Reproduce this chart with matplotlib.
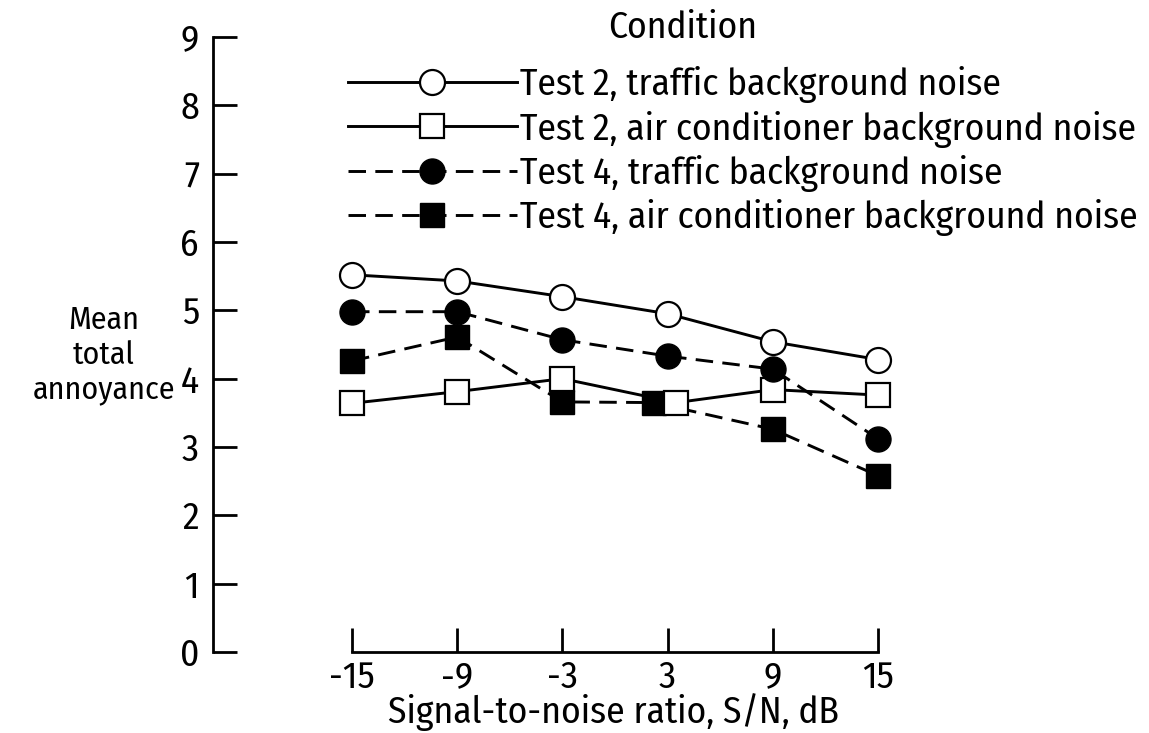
import matplotlib
matplotlib.use("Agg")
import matplotlib.pyplot as plt

plt.rcParams['font.family'] = ['Fira Sans Condensed', 'DejaVu Sans']

# signal-to-noise ratio, dB
sn = [-15, -9, -3, 3, 9, 15]
sn_labels = ["-15", "-9", "-3", "3", "9", "15"]

# mean total annoyance
t2_traffic = [5.52, 5.43, 5.20, 4.95, 4.54, 4.28]
t2_aircon = [3.64, 3.81, 4.00, 3.65, 3.84, 3.76]
t4_traffic = [4.98, 4.98, 4.57, 4.33, 4.14, 3.12]
t4_aircon = [4.26, 4.61, 3.66, 3.65, 3.26, 2.58]

# the two overlapping squares at 3 dB are drawn side by side
sn_t2_aircon = [-15, -9, -3, 3.5, 9, 15]
sn_t4_aircon = [-15, -9, -3, 2.2, 9, 15]

labels = ["Test 2, traffic background noise",
          "Test 2, air conditioner background noise",
          "Test 4, traffic background noise",
          "Test 4, air conditioner background noise"]

fig = plt.figure(figsize=(11.49, 7.33), dpi=100)
ax = fig.add_axes([213 / 1149, 1 - 652 / 733, (878 - 213) / 1149, (652 - 37) / 733])

lw = 2.1
ms = 18
dash = (0, (6, 3.2))

h1, = ax.plot(sn, t2_traffic, color="black", lw=lw, marker="o", ms=ms,
              mfc="white", mec="black", mew=1.6, zorder=6, clip_on=False)
h2, = ax.plot(sn_t2_aircon, t2_aircon, color="black", lw=lw, marker="s", ms=ms - 1,
              mfc="white", mec="black", mew=1.6, zorder=4, clip_on=False)
h3, = ax.plot(sn, t4_traffic, color="black", lw=lw, ls=dash, marker="o", ms=ms,
              mfc="black", mec="black", zorder=5, clip_on=False)
h4, = ax.plot(sn_t4_aircon, t4_aircon, color="black", lw=lw, ls=dash, marker="s", ms=ms - 1,
              mfc="black", mec="black", zorder=3, clip_on=False)

ax.set_xlim(-15 - (352 - 213) / 17.53, 15)
ax.set_ylim(0, 9)

for s in ["top", "right"]:
    ax.spines[s].set_visible(False)
ax.spines["left"].set_bounds(0, 9)
ax.spines["bottom"].set_bounds(-15, 15)
ax.spines["left"].set_linewidth(2)
ax.spines["bottom"].set_linewidth(2)

ax.set_yticks(range(10))
ax.set_xticks(sn)
ax.set_xticklabels(sn_labels)
ax.tick_params(axis="both", direction="in", length=17, width=2, labelsize=27)
ax.tick_params(axis="y", pad=10)
ax.tick_params(axis="x", pad=6)

fig.text(104 / 1149, 1 - 355 / 733, "Mean\ntotal\nannoyance", ha="center", va="center",
         fontsize=23, linespacing=1.2)
fig.text(613 / 1149, 1 - 712 / 733, "Signal-to-noise ratio, S/N, dB", ha="center", va="center",
         fontsize=27)
fig.text(683 / 1149, 1 - 28 / 733, "Condition", ha="center", va="center", fontsize=27)

ax.legend([h1, h2, h3, h4], labels, loc="upper left",
          bbox_to_anchor=(348 / 1149, 1 - 66 / 733), bbox_transform=fig.transFigure,
          frameon=False, fontsize=27, handlelength=4.5, handletextpad=0.1,
          labelspacing=0.2, borderpad=0, borderaxespad=0, numpoints=1)

fig.savefig("out.png", dpi=100)
